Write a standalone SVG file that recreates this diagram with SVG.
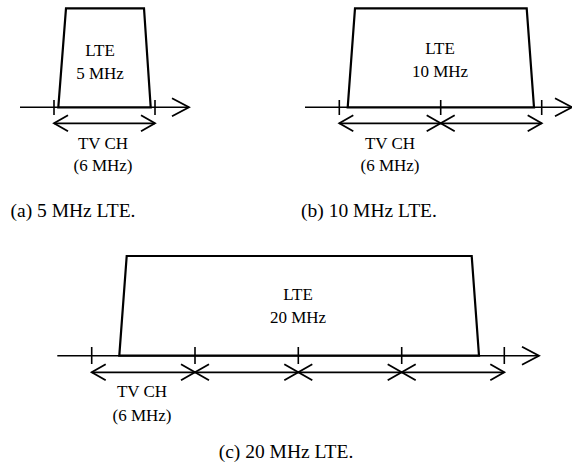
<svg xmlns="http://www.w3.org/2000/svg" width="572" height="468" viewBox="0 0 572 468">
<style>
  text { font-family: "Times New Roman", "Liberation Serif", Tinos, serif; fill: #000; text-anchor: middle; }
  .lbl { font-size: 17px; }
  .cap { font-size: 19.5px; }
  .trap { fill: #fff; stroke: #000; stroke-width: 2.2; stroke-linejoin: miter; }
  .axis { stroke: #000; stroke-width: 1.6; fill: none; }
  .tick { stroke: #000; stroke-width: 1.6; }
  .dbl { stroke: #000; stroke-width: 1.8; fill: none; marker-start: url(#head); marker-end: url(#head); }
</style>
<defs>
  <marker id="head" viewBox="0 0 14 16" refX="14" refY="8" markerWidth="14" markerHeight="16" markerUnits="userSpaceOnUse" orient="auto-start-reverse" overflow="visible">
    <path d="M0,0 L14,8 L0,16" fill="none" stroke="#000" stroke-width="1.8"/>
  </marker>
  <marker id="axhead" viewBox="0 0 17 18" refX="17" refY="9" markerWidth="17" markerHeight="18" markerUnits="userSpaceOnUse" orient="auto" overflow="visible">
    <path d="M0,0 L17,9 L0,18" fill="none" stroke="#000" stroke-width="1.8"/>
  </marker>
</defs>
<rect width="572" height="468" fill="#fff"/>

<g id="panel-a">
  <path class="axis" d="M20,107.3 H189" marker-end="url(#axhead)"/>
  <path class="trap" d="M58.3,107.3 L66,8.3 H144 L150.7,107.3 Z"/>
  <line class="tick" x1="54" y1="100" x2="54" y2="115"/>
  <line class="tick" x1="155" y1="100" x2="155" y2="115"/>
  <path class="dbl" d="M54,123.3 H155"/>
  <text class="lbl" x="100" y="56">LTE</text>
  <text class="lbl" x="100" y="79">5 MHz</text>
  <text class="lbl" x="103" y="149">TV CH</text>
  <text class="lbl" x="103" y="171">(6 MHz)</text>
  <text class="cap" x="73" y="217">(a) 5 MHz LTE.</text>
</g>

<g id="panel-b">
  <path class="axis" d="M305,107.3 H572" marker-end="url(#axhead)"/>
  <path class="trap" d="M347.7,107.3 L355,8.3 H526.7 L534,107.3 Z"/>
  <line class="tick" x1="339.3" y1="100" x2="339.3" y2="115"/>
  <line class="tick" x1="440.7" y1="100" x2="440.7" y2="115"/>
  <line class="tick" x1="541.7" y1="100" x2="541.7" y2="115"/>
  <path class="dbl" d="M339.3,123.3 H440.7"/>
  <path class="dbl" d="M440.7,123.3 H541.7"/>
  <text class="lbl" x="440" y="54">LTE</text>
  <text class="lbl" x="440" y="77">10 MHz</text>
  <text class="lbl" x="390" y="149">TV CH</text>
  <text class="lbl" x="390" y="171">(6 MHz)</text>
  <text class="cap" x="369" y="217">(b) 10 MHz LTE.</text>
</g>

<g id="panel-c">
  <path class="axis" d="M57.3,355.7 H539" marker-end="url(#axhead)"/>
  <path class="trap" d="M119.3,355.7 L126.7,256 H471.7 L479,355.7 Z"/>
  <line class="tick" x1="91.7" y1="347" x2="91.7" y2="364"/>
  <line class="tick" x1="195" y1="347" x2="195" y2="364"/>
  <line class="tick" x1="298.3" y1="347" x2="298.3" y2="364"/>
  <line class="tick" x1="401.7" y1="347" x2="401.7" y2="364"/>
  <line class="tick" x1="504.3" y1="347" x2="504.3" y2="364"/>
  <path class="dbl" d="M91.7,372.3 H195"/>
  <path class="dbl" d="M195,372.3 H298.3"/>
  <path class="dbl" d="M298.3,372.3 H401.7"/>
  <path class="dbl" d="M401.7,372.3 H504.3"/>
  <text class="lbl" x="298" y="300">LTE</text>
  <text class="lbl" x="298" y="323">20 MHz</text>
  <text class="lbl" x="142" y="397">TV CH</text>
  <text class="lbl" x="142" y="421">(6 MHz)</text>
  <text class="cap" x="286" y="458">(c) 20 MHz LTE.</text>
</g>
</svg>
